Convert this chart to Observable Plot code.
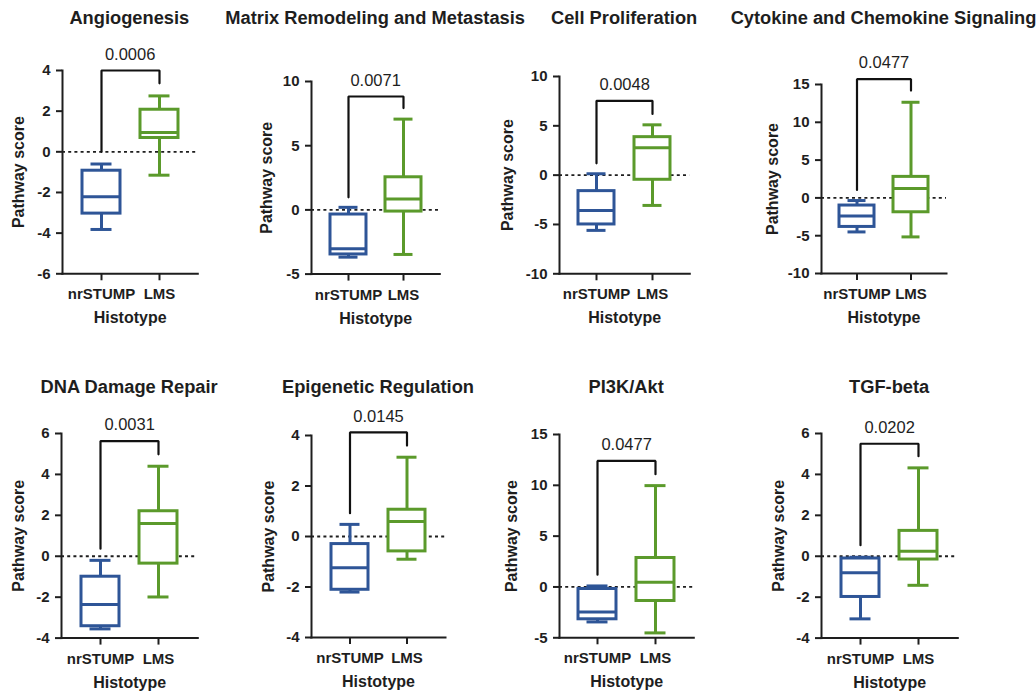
<!DOCTYPE html>
<html>
<head>
<meta charset="utf-8">
<script src="https://cdn.jsdelivr.net/npm/d3@7"></script>
<script src="https://cdn.jsdelivr.net/npm/@observablehq/plot@0.6"></script>
<style>
  body { margin: 0; background: #fff; font-family: "Liberation Sans", Arial, sans-serif; }
  #chart { position: relative; width: 1036px; height: 693px; overflow: hidden; background: #fff; }
  .panel { position: absolute; }
  .title {
    position: absolute; white-space: nowrap; transform: translate(-50%, -50%);
    font-weight: bold; font-size: 18.3px; color: #1e1e1e; line-height: 1;
  }
</style>
</head>
<body>
<div id="chart"></div>
<script>
// Pathway panels
const pathways = [
  "Angiogenesis", "Matrix Remodeling and Metastasis", "Cell Proliferation",
  "Cytokine and Chemokine Signaling", "DNA Damage Repair", "Epigenetic Regulation",
  "PI3K/Akt", "TGF-beta"
];
const groups = ["nrSTUMP", "LMS"];
const pValues = ["0.0006", "0.0071", "0.0048", "0.0477", "0.0031", "0.0145", "0.0477", "0.0202"];

// Five-number summaries per pathway: [min, Q1, median, Q3, max]
const nrSTUMP = [
  [-3.82, -3.04, -2.21, -0.93, -0.60],
  [-3.68, -3.47, -3.03, -0.36, 0.20],
  [-5.60, -5.00, -3.58, -1.62, 0.14],
  [-4.50, -3.84, -2.38, -1.01, -0.35],
  [-3.55, -3.42, -2.36, -1.00, -0.20],
  [-2.20, -2.11, -1.24, -0.30, 0.48],
  [-3.44, -3.18, -2.46, -0.20, 0.10],
  [-3.06, -1.99, -0.81, -0.11, -0.05]
];
const LMS = [
  [-1.15, 0.68, 0.95, 2.07, 2.75],
  [-3.47, -0.13, 0.85, 2.54, 7.07],
  [-3.07, -0.47, 2.77, 3.85, 5.10],
  [-5.16, -1.90, 1.23, 2.78, 12.65],
  [-1.99, -0.36, 1.60, 2.20, 4.40],
  [-0.90, -0.59, 0.59, 1.06, 3.14],
  [-4.52, -1.38, 0.46, 2.85, 9.97],
  [-1.42, -0.16, 0.24, 1.24, 4.32]
];

// Y axis extents and ticks
const yDomains = [[-6, 4], [-5, 10], [-10, 10], [-10, 15], [-4, 6], [-4, 4], [-5, 15], [-4, 6]];
const yTicks = [
  [-6, -4, -2, 0, 2, 4],
  [-5, 0, 5, 10],
  [-10, -5, 0, 5, 10],
  [-10, -5, 0, 5, 10, 15],
  [-4, -2, 0, 2, 4, 6],
  [-4, -2, 0, 2, 4],
  [-5, 0, 5, 10, 15],
  [-4, -2, 0, 2, 4, 6]
];

// Significance brackets: [left leg end, bar level, right leg end]
const brackets = [
  [0.00, 4.00, 3.37],
  [0.98, 8.83, 7.93],
  [1.20, 7.53, 6.20],
  [1.06, 15.70, 14.20],
  [0.37, 5.63, 4.98],
  [0.92, 4.12, 3.60],
  [1.20, 12.40, 11.10],
  [0.54, 5.50, 4.89]
];

// Panel frames in page pixels: [left, right, top, bottom]
const frames = [
  [61.7, 197.0, 70.0, 273.3],
  [311.0, 439.3, 80.7, 273.3],
  [559.0, 689.3, 76.0, 273.3],
  [821.0, 946.0, 84.3, 273.3],
  [61.0, 197.3, 432.7, 637.3],
  [311.0, 445.0, 435.3, 637.3],
  [559.0, 693.3, 434.0, 637.3],
  [821.0, 957.3, 432.7, 637.3]
];
// distance from y axis to the centre of the rotated axis label
const yLabelOffsets = [43.7, 44.3, 51.7, 48.3, 43.0, 43.0, 47.3, 42.7];
const titleRowY = [18, 387];

const BLUE = "#2e5597";
const GREEN = "#5b9a2b";
const INK = "#1e1e1e";
const FONT = "'Liberation Sans', Arial, sans-serif";

const chart = document.getElementById("chart");

pathways.forEach((name, i) => {
  const [fl, fr, ft, fb] = frames[i];
  const mL = 62, mR = 22, mT = 52, mB = 62;
  const width = fr - fl + mL + mR;
  const height = fb - ft + mT + mB;

  const stats = groups.map((g, k) => {
    const s = (k === 0 ? nrSTUMP : LMS)[i];
    return {group: g, min: s[0], q1: s[1], median: s[2], q3: s[3], max: s[4]};
  });
  const [bl, bt, br] = brackets[i];
  const bracket = [
    {group: groups[0], y: bl},
    {group: groups[0], y: bt},
    {group: groups[1], y: bt},
    {group: groups[1], y: br}
  ];

  const plot = Plot.plot({
    width, height,
    marginLeft: mL, marginRight: mR, marginTop: mT, marginBottom: mB,
    style: {fontFamily: FONT, color: INK, background: "transparent", overflow: "visible"},
    x: {type: "band", domain: groups, paddingInner: 0.352, paddingOuter: 0.333},
    y: {domain: yDomains[i], nice: false},
    color: {domain: groups, range: [BLUE, GREEN]},
    marks: [
      Plot.ruleY([0], {stroke: INK, strokeWidth: 1.8, strokeDasharray: "3,3.2"}),
      // whiskers
      Plot.ruleX(stats, {x: "group", y1: "min", y2: "q1", stroke: "group", strokeWidth: 3}),
      Plot.ruleX(stats, {x: "group", y1: "q3", y2: "max", stroke: "group", strokeWidth: 3}),
      Plot.tickY(stats, {x: "group", y: "min", stroke: "group", strokeWidth: 3, insetLeft: 8.5, insetRight: 8.5}),
      Plot.tickY(stats, {x: "group", y: "max", stroke: "group", strokeWidth: 3, insetLeft: 8.5, insetRight: 8.5}),
      // boxes and medians
      Plot.barY(stats, {x: "group", y1: "q1", y2: "q3", fill: "white", stroke: "group", strokeWidth: 3}),
      Plot.tickY(stats, {x: "group", y: "median", stroke: "group", strokeWidth: 3}),
      // significance bracket
      Plot.line(bracket, {x: "group", y: "y", stroke: "#111", strokeWidth: 2.2, strokeLinejoin: "miter"}),
      Plot.text([pValues[i]], {y: bt, text: d => d, dy: -16, fontSize: 16.5, fill: INK}),
      // axes
      Plot.frame({anchor: "left", stroke: INK, strokeWidth: 2}),
      Plot.frame({anchor: "bottom", stroke: INK, strokeWidth: 2}),
      Plot.axisY({ticks: yTicks[i], tickSize: 6, tickPadding: 6, fontSize: 15, fontWeight: "bold", strokeWidth: 2, label: null, tickFormat: d => String(d)}),
      Plot.axisX({tickSize: 7, tickPadding: 8, fontSize: 15, fontWeight: "bold", strokeWidth: 2, label: null}),
      Plot.text(["Pathway score"], {text: d => d, frameAnchor: "left", textAnchor: "middle", lineAnchor: "middle", rotate: -90, dx: -yLabelOffsets[i], fontSize: 16, fontWeight: "bold", fill: INK}),
      Plot.text(["Histotype"], {text: d => d, frameAnchor: "bottom", textAnchor: "middle", lineAnchor: "middle", dy: 44.5, fontSize: 16, fontWeight: "bold", fill: INK})
    ]
  });
  plot.classList.add("panel");
  plot.style.left = (fl - mL) + "px";
  plot.style.top = (ft - mT) + "px";
  chart.appendChild(plot);

  const title = document.createElement("div");
  title.className = "title";
  title.textContent = name;
  title.style.left = ((fl + fr) / 2) + "px";
  title.style.top = titleRowY[i < 4 ? 0 : 1] + "px";
  chart.appendChild(title);
});
</script>
</body>
</html>
